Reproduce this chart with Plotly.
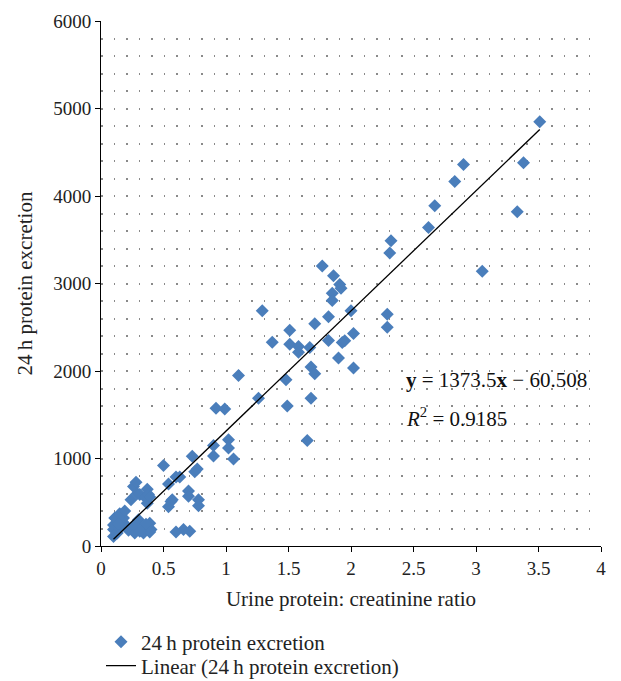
import numpy as np
import plotly.graph_objects as go

# Urine protein:creatinine ratio (x) and 24 h protein excretion (y)
upcr = [0.10, 0.10, 0.10, 0.11, 0.13, 0.15, 0.15, 0.17, 0.18, 0.19, 0.21, 0.22, 0.24, 0.26, 0.26,
        0.27, 0.28, 0.29, 0.31, 0.33, 0.34, 0.35, 0.37, 0.37, 0.38, 0.39, 0.39, 0.40, 0.39, 0.30,
        0.27, 0.14, 0.36, 0.31,
        0.50, 0.54, 0.54, 0.56, 0.57, 0.60, 0.63, 0.60, 0.66, 0.71, 0.70, 0.70, 0.73, 0.75, 0.77,
        0.78, 0.78, 0.90, 0.90, 0.92, 0.99, 1.02, 1.02, 1.06, 1.10,
        1.26, 1.29, 1.37, 1.48, 1.49, 1.51, 1.51, 1.58, 1.58, 1.65, 1.67, 1.68, 1.68, 1.71, 1.71,
        1.77, 1.82, 1.82, 1.85, 1.85, 1.86, 1.90, 1.91, 1.92, 1.93, 1.95, 2.00, 2.02, 2.02,
        2.29, 2.29, 2.31, 2.32, 2.62, 2.67, 2.83, 2.90, 3.05, 3.33, 3.38, 3.51]
excretion = [110, 190, 240, 320, 150, 370, 210, 280, 320, 400, 220, 180, 530, 680, 200,
             150, 730, 600, 590, 190, 150, 560, 650, 490, 590, 560, 260, 190, 160, 300,
             250, 260, 250, 170,
             920, 710, 450, 510, 530, 790, 790, 160, 190, 170, 630, 570, 1025, 850, 880,
             530, 460, 1150, 1030, 1575, 1565, 1215, 1120, 995, 1950,
             1690, 2690, 2330, 1900, 1600, 2465, 2305, 2280, 2215, 1205, 2270, 2045, 1690, 1970, 2540,
             3200, 2620, 2350, 2890, 2805, 3090, 2150, 2990, 2945, 2325, 2345, 2690, 2430, 2035,
             2650, 2500, 3350, 3490, 3640, 3890, 4165, 4360, 3140, 3820, 4380, 4850]

slope = 1373.5
intercept = -60.508
r_squared = 0.9185

x_ticks = [0, 0.5, 1, 1.5, 2, 2.5, 3, 3.5, 4]
x_tick_text = ["0", "0.5", "1", "1.5", "2", "2.5", "3", "3.5", "4"]
y_ticks = [0, 1000, 2000, 3000, 4000, 5000, 6000]

FONT = "Liberation Serif, Times New Roman, serif"
TEXT = "#222222"

fig = go.Figure()
fig.add_trace(go.Scatter(
    x=upcr, y=excretion, mode="markers", name="24\u2009h protein excretion",
    marker=dict(symbol="diamond", size=10, color="#4A7EBB", line=dict(width=0)),
    legend="legend",
))
xfit = np.array([min(upcr), max(upcr)])
fig.add_trace(go.Scatter(
    x=xfit, y=slope * xfit + intercept, mode="lines",
    name="Linear (24\u2009h protein excretion)",
    line=dict(color="black", width=1.3),
    legend="legend2",
))

legend_style = dict(x=0.0, xanchor="left", yanchor="top",
                    font=dict(family=FONT, size=21, color=TEXT),
                    bgcolor="rgba(0,0,0,0)")

# the page body adds an 8px offset, so margins are reduced accordingly
fig.update_layout(
    width=621, height=681,
    margin=dict(l=93, r=28, t=13, b=143, autoexpand=False),
    paper_bgcolor="white", plot_bgcolor="white",
    font=dict(family=FONT, size=18, color=TEXT),
    showlegend=True,
    legend=dict(y=-0.1438, **legend_style),
    legend2=dict(y=-0.1895, **legend_style),
)
fig.update_xaxes(
    range=[0, 4], tickvals=x_ticks, ticktext=x_tick_text,
    showline=True, linecolor="black", linewidth=1,
    ticks="outside", ticklen=5, tickcolor="black",
    tickfont=dict(family=FONT, size=19, color=TEXT),
    showgrid=False, zeroline=False,
    title=dict(text="Urine protein: creatinine ratio", standoff=13,
               font=dict(family=FONT, size=21, color=TEXT)),
)
fig.update_yaxes(
    range=[0, 6000], tickvals=y_ticks,
    showline=True, linecolor="black", linewidth=1,
    ticks="outside", ticklen=5, tickcolor="black",
    tickfont=dict(family=FONT, size=19, color=TEXT),
    showgrid=False, zeroline=False,
    minor=dict(dtick=200, tick0=0, showgrid=True, gridcolor="#8a8a8a",
               gridwidth=1.5, griddash="1.5px,11px", ticklen=0),
    title=dict(text="24\u2009h protein excretion", standoff=14,
               font=dict(family=FONT, size=21, color=TEXT)),
)

fig.add_annotation(x=2.42, y=1897, xref="x", yref="y", xanchor="left", yanchor="middle",
                   showarrow=False,
                   text=f"<b>y</b> = {slope}<b>x</b> \u2212 {abs(intercept)}",
                   font=dict(family=FONT, size=21, color="#111"))
fig.add_annotation(x=2.42, y=1463, xref="x", yref="y", xanchor="left", yanchor="middle",
                   showarrow=False,
                   text=f"<i>R</i><sup>2</sup> = {r_squared}",
                   font=dict(family=FONT, size=21, color="#111"))

fig.write_html("out.html")
